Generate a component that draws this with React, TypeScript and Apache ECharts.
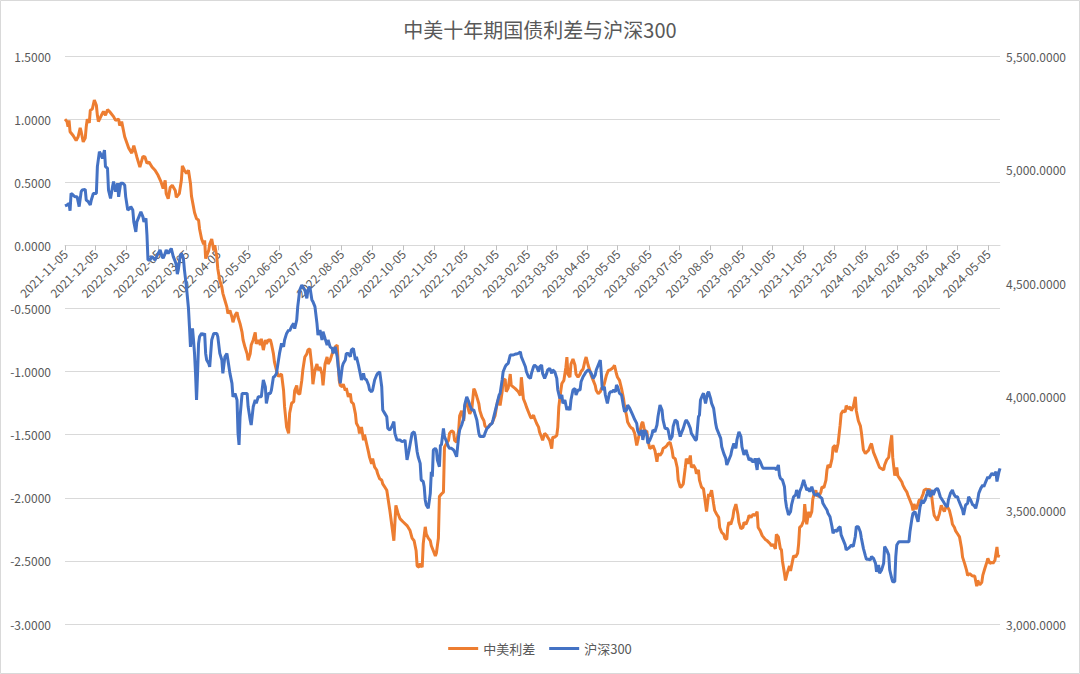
import React, { useEffect, useRef } from "react";
import * as echarts from "echarts";

// Axis span: calendar days from 2021-11-05 (day 0) to day 924
const startDate = "2021-11-05";
const dayCount = 925;

const titleText = "中美十年期国债利差与沪深300";
const seriesNames = ["中美利差", "沪深300"];

// [days since 2021-11-05, 中美利差 value]
const spreadPoints: [number, number][] = [
  [0, 1.0], [2, 0.98], [3, 0.94], [4, 0.99], [5, 0.9], [8, 0.87], [11, 0.83], [13, 0.86], [15, 0.93], [16, 0.9],
  [18, 0.82], [20, 0.85], [21, 0.94], [22, 1.0], [24, 0.97], [25, 1.07], [27, 1.08], [29, 1.15], [31, 1.11], [32, 1.03],
  [33, 0.98], [36, 1.03], [38, 1.06], [40, 1.03], [42, 1.075], [44, 1.06], [48, 1.02], [50, 0.99], [53, 1.0], [54, 0.95],
  [56, 0.98], [59, 0.86], [63, 0.77], [66, 0.73], [68, 0.79], [71, 0.7], [74, 0.62], [77, 0.705], [79, 0.7], [81, 0.65],
  [83, 0.66], [86, 0.62], [89, 0.595], [92, 0.555], [95, 0.5], [97, 0.45], [99, 0.515], [100, 0.41], [102, 0.37], [104, 0.46],
  [106, 0.475], [109, 0.435], [110, 0.38], [113, 0.41], [115, 0.515], [116, 0.63], [118, 0.595], [120, 0.57], [122, 0.595], [124, 0.49],
  [125, 0.39], [128, 0.26], [130, 0.21], [132, 0.2], [133, 0.13], [135, 0.05], [137, 0.01], [138, 0.04], [139, -0.105], [142, -0.04],
  [143, 0.01], [145, 0.05], [147, -0.04], [148, 0.0], [150, -0.09], [151, -0.185], [153, -0.28], [155, -0.33], [156, -0.38], [158, -0.435],
  [160, -0.49], [161, -0.54], [163, -0.515], [165, -0.57], [166, -0.61], [168, -0.555], [170, -0.53], [171, -0.57], [173, -0.62], [175, -0.69],
  [176, -0.75], [178, -0.81], [180, -0.86], [181, -0.91], [183, -0.86], [184, -0.79], [186, -0.75], [188, -0.69], [189, -0.78], [191, -0.75],
  [193, -0.79], [194, -0.74], [196, -0.83], [198, -0.75], [199, -0.78], [201, -0.75], [203, -0.75], [204, -0.78], [206, -0.86], [207, -0.925],
  [209, -0.99], [211, -1.04], [212, -1.03], [214, -1.02], [216, -1.15], [217, -1.28], [219, -1.44], [221, -1.49], [222, -1.33], [224, -1.25],
  [226, -1.24], [227, -1.15], [229, -1.11], [230, -1.17], [232, -1.18], [234, -1.07], [235, -0.99], [237, -0.885], [239, -0.86], [240, -0.83],
  [242, -0.82], [244, -0.965], [245, -1.1], [247, -0.99], [249, -0.94], [250, -0.99], [252, -0.965], [254, -1.02], [255, -1.11], [257, -0.94],
  [259, -0.885], [260, -0.94], [262, -0.91], [264, -0.86], [265, -0.845], [267, -0.805], [269, -0.79], [270, -0.94], [271, -1.07], [272, -1.11],
  [274, -1.12], [275, -1.1], [277, -1.15], [278, -1.13], [280, -1.2], [282, -1.175], [283, -1.24], [285, -1.255], [287, -1.335], [288, -1.41],
  [290, -1.44], [291, -1.49], [293, -1.44], [295, -1.545], [296, -1.5], [298, -1.57], [300, -1.64], [301, -1.68], [303, -1.73], [304, -1.69],
  [306, -1.757], [308, -1.78], [309, -1.81], [311, -1.85], [313, -1.86], [314, -1.89], [316, -1.915], [318, -1.94], [321, -2.1], [323, -2.22],
  [325, -2.34], [327, -2.06], [329, -2.12], [331, -2.165], [334, -2.19], [338, -2.22], [341, -2.26], [343, -2.32], [345, -2.34], [347, -2.42],
  [348, -2.54], [350, -2.55], [351, -2.52], [353, -2.55], [354, -2.365], [356, -2.23], [357, -2.285], [359, -2.32], [361, -2.34], [362, -2.38],
  [364, -2.42], [366, -2.46], [367, -2.44], [369, -2.32], [370, -1.99], [372, -1.97], [374, -1.955], [375, -1.6], [377, -1.57], [379, -1.545],
  [380, -1.49], [382, -1.47], [384, -1.48], [385, -1.545], [387, -1.56], [389, -1.47], [390, -1.35], [392, -1.31], [394, -1.39], [395, -1.28],
  [397, -1.24], [399, -1.31], [400, -1.335], [402, -1.3], [404, -1.135], [405, -1.15], [407, -1.2], [409, -1.255], [410, -1.31], [412, -1.36],
  [414, -1.39], [415, -1.43], [417, -1.45], [419, -1.43], [420, -1.42], [422, -1.41], [423, -1.39], [425, -1.35], [427, -1.255], [429, -1.2],
  [430, -1.27], [432, -1.16], [433, -1.07], [435, -1.06], [436, -1.16], [438, -1.13], [440, -1.02], [441, -1.11], [445, -1.135], [448, -1.16],
  [450, -1.19], [451, -1.045], [453, -1.215], [455, -1.255], [456, -1.28], [458, -1.32], [460, -1.36], [461, -1.37], [463, -1.345], [464, -1.37],
  [466, -1.41], [468, -1.44], [469, -1.48], [471, -1.52], [472, -1.545], [474, -1.49], [476, -1.505], [477, -1.52], [479, -1.545], [481, -1.61],
  [482, -1.52], [484, -1.52], [486, -1.505], [487, -1.44], [488, -1.28], [490, -1.15], [491, -1.095], [493, -1.07], [495, -0.965], [496, -0.885],
  [497, -1.02], [499, -1.045], [500, -0.94], [502, -0.9], [504, -0.95], [505, -1.02], [507, -1.045], [509, -1.02], [510, -1.0], [512, -0.98],
  [514, -0.91], [515, -0.885], [517, -0.95], [519, -1.0], [520, -1.03], [522, -1.07], [524, -1.11], [525, -1.15], [527, -1.175], [529, -1.16],
  [530, -1.135], [532, -1.12], [533, -1.095], [535, -1.03], [537, -0.99], [538, -0.99], [540, -0.98], [542, -0.965], [543, -0.95], [545, -1.02],
  [546, -1.045], [548, -1.07], [550, -1.135], [552, -1.215], [553, -1.28], [555, -1.35], [556, -1.4], [558, -1.43], [560, -1.45], [561, -1.45],
  [563, -1.49], [565, -1.585], [566, -1.55], [568, -1.48], [570, -1.41], [571, -1.4], [573, -1.48], [575, -1.47], [576, -1.545], [578, -1.61],
  [580, -1.6], [581, -1.585], [583, -1.625], [585, -1.715], [586, -1.65], [588, -1.665], [590, -1.64], [591, -1.61], [593, -1.6], [595, -1.585],
  [596, -1.57], [598, -1.56], [600, -1.625], [601, -1.68], [603, -1.69], [605, -1.76], [606, -1.86], [608, -1.915], [609, -1.915], [611, -1.89],
  [613, -1.76], [614, -1.69], [616, -1.73], [618, -1.665], [619, -1.76], [621, -1.74], [623, -1.77], [624, -1.81], [626, -1.78], [627, -1.86],
  [629, -1.915], [631, -1.93], [632, -1.99], [634, -2.11], [636, -1.97], [637, -1.99], [639, -1.94], [641, -2.05], [642, -2.1], [644, -2.13],
  [646, -2.155], [647, -2.235], [649, -2.275], [651, -2.29], [652, -2.32], [654, -2.33], [655, -2.235], [656, -2.195], [658, -2.21], [660, -2.155],
  [661, -2.1], [663, -2.05], [665, -2.13], [666, -2.195], [668, -2.245], [670, -2.235], [671, -2.195], [673, -2.21], [675, -2.17], [676, -2.14],
  [678, -2.155], [680, -2.13], [682, -2.14], [684, -2.11], [685, -2.235], [687, -2.26], [689, -2.3], [690, -2.31], [692, -2.33], [694, -2.34],
  [695, -2.35], [697, -2.365], [698, -2.38], [700, -2.37], [702, -2.405], [703, -2.29], [705, -2.31], [707, -2.405], [708, -2.41], [709, -2.5],
  [711, -2.6], [712, -2.655], [714, -2.59], [716, -2.54], [717, -2.58], [719, -2.5], [720, -2.46], [722, -2.47], [724, -2.44], [725, -2.365],
  [726, -2.235], [728, -2.22], [730, -2.18], [731, -2.05], [733, -2.21], [735, -2.11], [736, -2.155], [738, -2.11], [739, -2.01], [740, -1.98],
  [742, -1.94], [743, -1.98], [745, -1.99], [747, -1.955], [748, -1.915], [750, -1.92], [752, -1.86], [753, -1.78], [754, -1.74], [756, -1.76],
  [758, -1.69], [759, -1.6], [761, -1.585], [762, -1.64], [764, -1.57], [766, -1.425], [767, -1.335], [769, -1.31], [771, -1.32], [772, -1.27],
  [774, -1.295], [776, -1.28], [777, -1.31], [779, -1.28], [781, -1.2], [782, -1.31], [784, -1.39], [786, -1.43], [787, -1.48], [789, -1.62],
  [791, -1.65], [792, -1.64], [794, -1.625], [796, -1.585], [797, -1.57], [799, -1.64], [801, -1.68], [802, -1.7], [804, -1.74], [805, -1.76],
  [807, -1.77], [809, -1.78], [810, -1.74], [812, -1.7], [814, -1.68], [815, -1.61], [817, -1.505], [818, -1.68], [820, -1.825], [822, -1.76],
  [823, -1.825], [825, -1.85], [827, -1.875], [828, -1.9], [830, -1.93], [832, -1.955], [833, -1.98], [835, -2.02], [837, -2.06], [838, -2.1],
  [839, -2.05], [841, -2.09], [843, -2.05], [844, -2.02], [846, -2.01], [848, -1.97], [849, -1.94], [851, -1.93], [853, -1.94], [854, -1.93],
  [856, -1.955], [858, -2.09], [859, -2.14], [861, -2.165], [862, -2.18], [864, -2.13], [866, -2.06], [867, -2.08], [869, -2.11], [871, -2.06],
  [872, -2.07], [874, -2.1], [876, -2.165], [877, -2.21], [879, -2.235], [880, -2.26], [882, -2.285], [884, -2.31], [886, -2.4], [887, -2.47],
  [889, -2.52], [891, -2.575], [892, -2.615], [894, -2.6], [896, -2.615], [897, -2.62], [899, -2.62], [901, -2.7], [902, -2.655], [904, -2.69],
  [906, -2.67], [907, -2.615], [909, -2.56], [911, -2.51], [912, -2.48], [914, -2.52], [916, -2.51], [917, -2.52], [919, -2.495], [921, -2.39],
  [922, -2.47], [923, -2.45],
];

// [days since 2021-11-05, 沪深300 value]
const csi300Points: [number, number][] = [
  [0, 4840], [2, 4844], [4, 4851], [5, 4819], [6, 4895], [8, 4888], [10, 4880], [12, 4880], [14, 4837], [16, 4903],
  [17, 4910], [20, 4913], [21, 4866], [23, 4859], [25, 4844], [26, 4866], [28, 4895], [31, 4895], [32, 5013], [34, 5079],
  [35, 5071], [37, 5049], [39, 5086], [40, 5013], [42, 5006], [43, 4910], [45, 4873], [47, 4925], [48, 4947], [50, 4903],
  [52, 4940], [53, 4880], [55, 4940], [57, 4940], [59, 4932], [60, 4880], [62, 4822], [64, 4829], [65, 4837], [67, 4822],
  [68, 4770], [70, 4726], [71, 4770], [73, 4792], [75, 4814], [77, 4792], [78, 4770], [80, 4785], [81, 4712], [82, 4602],
  [84, 4602], [86, 4617], [89, 4602], [92, 4631], [94, 4646], [96, 4617], [97, 4610], [99, 4631], [100, 4646], [102, 4631],
  [104, 4646], [105, 4653], [107, 4617], [109, 4595], [110, 4580], [111, 4540], [112, 4560], [114, 4624], [115, 4631], [117, 4610],
  [118, 4560], [120, 4485], [122, 4390], [123, 4309], [124, 4220], [125, 4265], [126, 4301], [127, 4250], [128, 4191], [129, 4103],
  [130, 3986], [131, 4103], [132, 4235], [133, 4265], [135, 4279], [137, 4272], [138, 4279], [139, 4191], [140, 4162], [142, 4147],
  [143, 4132], [144, 4191], [145, 4250], [147, 4279], [148, 4279], [150, 4279], [151, 4265], [153, 4191], [155, 4162], [156, 4103],
  [158, 4176], [160, 4191], [161, 4162], [163, 4103], [165, 4059], [166, 4000], [168, 4015], [170, 3986], [171, 3839], [172, 3788],
  [173, 3912], [175, 4015], [176, 4015], [178, 4015], [180, 4015], [181, 3956], [183, 3898], [184, 3876], [186, 3956], [188, 3986],
  [189, 3971], [191, 4000], [193, 4000], [194, 4000], [196, 4074], [198, 4044], [199, 3971], [201, 4015], [203, 4015], [204, 4030],
  [206, 4088], [207, 4088], [209, 4103], [211, 4162], [212, 4191], [214, 4235], [216, 4220], [217, 4250], [219, 4279], [221, 4294],
  [222, 4290], [224, 4310], [226, 4323], [227, 4300], [229, 4338], [230, 4397], [232, 4470], [234, 4492], [235, 4485], [237, 4470],
  [239, 4433], [240, 4470], [242, 4485], [244, 4426], [245, 4419], [247, 4397], [249, 4323], [250, 4272], [252, 4294], [254, 4250],
  [255, 4287], [257, 4257], [259, 4228], [260, 4250], [262, 4220], [264, 4213], [265, 4191], [267, 4220], [269, 4176], [270, 4132],
  [272, 4059], [274, 4132], [275, 4147], [277, 4162], [278, 4191], [280, 4191], [282, 4176], [283, 4206], [285, 4213], [287, 4162],
  [288, 4176], [290, 4140], [291, 4118], [293, 4074], [295, 4103], [296, 4081], [298, 4074], [300, 4052], [301, 4030], [303, 4022],
  [304, 4030], [306, 4074], [308, 4096], [309, 4103], [311, 4110], [313, 4044], [314, 3942], [316, 3927], [318, 3912], [319, 3861],
  [321, 3854], [323, 3869], [325, 3891], [326, 3839], [328, 3810], [330, 3810], [331, 3810], [333, 3803], [335, 3805], [336, 3810],
  [338, 3722], [340, 3765], [341, 3790], [343, 3839], [345, 3846], [346, 3830], [348, 3758], [349, 3736], [351, 3707], [352, 3634],
  [354, 3627], [355, 3604], [356, 3546], [357, 3524], [359, 3509], [361, 3575], [362, 3670], [363, 3648], [364, 3766], [366, 3773],
  [367, 3766], [368, 3722], [370, 3692], [371, 3788], [372, 3788], [374, 3861], [375, 3825], [377, 3803], [379, 3780], [380, 3773],
  [382, 3773], [384, 3766], [385, 3758], [387, 3736], [389, 3825], [390, 3854], [392, 3876], [394, 3905], [395, 3964], [397, 4000],
  [399, 3978], [400, 3964], [402, 3942], [404, 3942], [405, 3927], [407, 3898], [409, 3839], [410, 3825], [412, 3825], [414, 3825],
  [415, 3839], [417, 3861], [419, 3869], [420, 3876], [422, 3883], [423, 3898], [425, 3935], [427, 3971], [429, 4008], [430, 4015],
  [432, 4074], [433, 4110], [435, 4132], [436, 4140], [438, 4147], [440, 4184], [441, 4184], [443, 4184], [445, 4188], [446, 4188],
  [448, 4191], [450, 4198], [451, 4176], [453, 4154], [455, 4132], [456, 4110], [458, 4088], [460, 4081], [461, 4103], [463, 4132],
  [464, 4140], [466, 4132], [468, 4110], [469, 4132], [471, 4140], [472, 4103], [474, 4081], [476, 4103], [477, 4118], [479, 4125],
  [481, 4103], [482, 4118], [484, 4110], [486, 4081], [487, 4030], [489, 3993], [491, 4008], [492, 3971], [494, 3986], [496, 3942],
  [497, 3956], [499, 3942], [500, 3986], [502, 4030], [504, 4037], [505, 4008], [507, 4030], [509, 4030], [510, 4066], [512, 4088],
  [514, 4103], [515, 4110], [517, 4118], [519, 4110], [520, 4103], [522, 4081], [524, 4096], [525, 4118], [527, 4140], [529, 4162],
  [530, 4103], [531, 4030], [533, 4044], [534, 4008], [536, 3971], [538, 4015], [539, 4022], [541, 4022], [542, 4030], [544, 4022],
  [545, 4052], [546, 4044], [548, 4015], [550, 4008], [552, 3956], [553, 3935], [555, 3942], [556, 3964], [558, 3950], [560, 3930],
  [561, 3920], [563, 3900], [565, 3883], [566, 3850], [568, 3832], [570, 3854], [571, 3810], [573, 3854], [575, 3832], [576, 3795],
  [578, 3810], [580, 3832], [581, 3854], [583, 3846], [585, 3876], [586, 3912], [588, 3964], [590, 3942], [591, 3898], [593, 3861],
  [595, 3861], [596, 3854], [598, 3810], [600, 3825], [601, 3869], [603, 3898], [605, 3891], [606, 3861], [608, 3825], [609, 3839],
  [611, 3861], [613, 3891], [614, 3898], [616, 3883], [618, 3861], [619, 3839], [621, 3825], [623, 3810], [624, 3810], [626, 3912],
  [627, 3920], [628, 3986], [630, 4008], [631, 4015], [633, 3971], [635, 4015], [636, 4022], [638, 3993], [639, 3971], [641, 3949],
  [643, 3883], [644, 3861], [646, 3839], [648, 3817], [649, 3780], [651, 3751], [653, 3729], [654, 3700], [656, 3722], [658, 3744],
  [659, 3766], [661, 3795], [663, 3773], [664, 3810], [666, 3846], [668, 3825], [669, 3780], [671, 3744], [673, 3766], [674, 3751],
  [676, 3722], [678, 3729], [679, 3715], [681, 3715], [682, 3729], [684, 3678], [685, 3729], [687, 3715], [689, 3692], [690, 3685],
  [694, 3685], [697, 3685], [700, 3685], [702, 3685], [703, 3678], [705, 3700], [706, 3656], [707, 3641], [709, 3634], [711, 3604],
  [712, 3546], [713, 3516], [715, 3480], [717, 3494], [718, 3524], [720, 3560], [722, 3568], [723, 3590], [725, 3553], [726, 3582],
  [728, 3604], [730, 3634], [731, 3619], [733, 3590], [735, 3597], [736, 3582], [738, 3604], [740, 3575], [741, 3568], [743, 3568],
  [744, 3575], [746, 3560], [748, 3553], [749, 3531], [751, 3516], [753, 3502], [754, 3487], [756, 3472], [758, 3428], [759, 3399],
  [761, 3414], [763, 3407], [764, 3421], [766, 3428], [767, 3392], [769, 3370], [771, 3348], [772, 3326], [774, 3333], [776, 3341],
  [777, 3348], [779, 3341], [781, 3385], [782, 3428], [784, 3428], [786, 3405], [787, 3378], [789, 3333], [791, 3300], [792, 3285],
  [794, 3285], [796, 3282], [797, 3297], [799, 3289], [801, 3267], [802, 3230], [804, 3260], [805, 3223], [807, 3238], [809, 3267],
  [810, 3341], [812, 3326], [814, 3304], [815, 3238], [817, 3201], [818, 3186], [820, 3186], [821, 3297], [822, 3348], [824, 3362],
  [826, 3362], [828, 3362], [832, 3362], [834, 3362], [835, 3406], [837, 3465], [838, 3487], [840, 3494], [842, 3465], [843, 3450],
  [845, 3516], [847, 3546], [848, 3531], [850, 3546], [852, 3575], [853, 3590], [855, 3560], [857, 3590], [858, 3568], [860, 3590],
  [862, 3597], [863, 3590], [865, 3560], [867, 3546], [868, 3539], [870, 3524], [872, 3516], [873, 3546], [875, 3575], [877, 3590],
  [878, 3575], [880, 3560], [882, 3560], [883, 3546], [885, 3524], [887, 3502], [888, 3480], [890, 3524], [892, 3531], [893, 3560],
  [895, 3546], [897, 3524], [898, 3524], [900, 3509], [902, 3546], [903, 3575], [905, 3597], [907, 3612], [908, 3604], [910, 3627],
  [912, 3648], [913, 3641], [915, 3656], [916, 3663], [918, 3656], [920, 3670], [921, 3627], [923, 3670], [924, 3685],
];

const leftAxis = { min: -3, max: 1.5, interval: 0.5 };
const rightAxis = { min: 3000, max: 5500, interval: 500 };

function buildDates(start: string, count: number): string[] {
  const out: string[] = [];
  const [y, m, d] = start.split("-").map(Number);
  const base = Date.UTC(y, m - 1, d);
  for (let i = 0; i < count; i++) {
    const dt = new Date(base + i * 86400000);
    const mm = String(dt.getUTCMonth() + 1).padStart(2, "0");
    const dd = String(dt.getUTCDate()).padStart(2, "0");
    out.push(`${dt.getUTCFullYear()}-${mm}-${dd}`);
  }
  return out;
}

const gridTop = 56;
const gridBottom = 50;
const chartHeight = 674;

export default function App() {
  const ref = useRef<HTMLDivElement>(null);

  useEffect(() => {
    if (!ref.current) return;
    const chart = echarts.init(ref.current, null, { renderer: "svg" });
    const dates = buildDates(startDate, dayCount);
    const isMonthTick = (_i: number, v: string) => v.endsWith("-05");
    const textColor = "#595959";
    const font = "'Noto Sans CJK SC', 'Noto Sans', sans-serif";

    // place the category axis where the left value axis crosses 0
    const plotH = chartHeight - gridTop - gridBottom;
    const zeroFromBottom = (plotH * (0 - leftAxis.min)) / (leftAxis.max - leftAxis.min);

    chart.setOption({
      animation: false,
      backgroundColor: "#ffffff",
      textStyle: { fontFamily: font },
      title: {
        text: titleText,
        left: "center",
        top: 14,
        textStyle: { color: textColor, fontSize: 20, fontWeight: "normal", fontFamily: font },
      },
      legend: {
        bottom: 14,
        left: "center",
        icon: "rect",
        itemWidth: 30,
        itemHeight: 3,
        itemGap: 14,
        textStyle: { color: textColor, fontSize: 13, fontFamily: font },
        data: seriesNames,
      },
      graphic: [
        {
          type: "rect",
          shape: { x: 0.5, y: 0.5, width: 1079, height: 673 },
          style: { fill: "none", stroke: "#d9d9d9", lineWidth: 1 },
          silent: true,
        },
      ],
      grid: { left: 65, right: 80, top: gridTop, bottom: gridBottom, containLabel: false },
      xAxis: {
        type: "category",
        data: dates,
        boundaryGap: false,
        position: "bottom",
        offset: -zeroFromBottom,
        axisLine: { onZero: false, lineStyle: { color: "#d9d9d9", width: 1 } },
        axisTick: { interval: isMonthTick, length: 5, lineStyle: { color: "#bfbfbf" } },
        axisLabel: {
          interval: isMonthTick,
          rotate: 45,
          color: textColor,
          fontSize: 12,
          margin: 6,
          fontFamily: font,
        },
        splitLine: { show: false },
      },
      yAxis: [
        {
          type: "value",
          min: leftAxis.min,
          max: leftAxis.max,
          interval: leftAxis.interval,
          axisLine: { show: false, onZero: false },
          axisTick: { show: false },
          axisLabel: {
            color: textColor,
            fontSize: 12,
            margin: 14,
            fontFamily: font,
            formatter: (v: number) => v.toFixed(4),
          },
          splitLine: { lineStyle: { color: "#d9d9d9", width: 1 } },
        },
        {
          type: "value",
          min: rightAxis.min,
          max: rightAxis.max,
          interval: rightAxis.interval,
          axisLine: { show: false, onZero: false },
          axisTick: { show: false },
          axisLabel: {
            color: textColor,
            fontSize: 12,
            margin: 6,
            fontFamily: font,
            formatter: (v: number) =>
              v.toLocaleString("en-US", { minimumFractionDigits: 4, maximumFractionDigits: 4 }),
          },
          splitLine: { show: false },
        },
      ],
      series: [
        {
          name: seriesNames[0],
          type: "line",
          yAxisIndex: 0,
          symbol: "none",
          showSymbol: false,
          lineStyle: { color: "#ED7D31", width: 3 },
          itemStyle: { color: "#ED7D31" },
          data: spreadPoints.map(([d, v]) => [dates[d], v]),
        },
        {
          name: seriesNames[1],
          type: "line",
          yAxisIndex: 1,
          symbol: "none",
          showSymbol: false,
          lineStyle: { color: "#4472C4", width: 3 },
          itemStyle: { color: "#4472C4" },
          data: csi300Points.map(([d, v]) => [dates[d], v]),
        },
      ],
    });

    return () => chart.dispose();
  }, []);

  return (
    <div
      ref={ref}
      style={{ position: "fixed", left: 0, top: 0, width: 1080, height: 674 }}
    />
  );
}
